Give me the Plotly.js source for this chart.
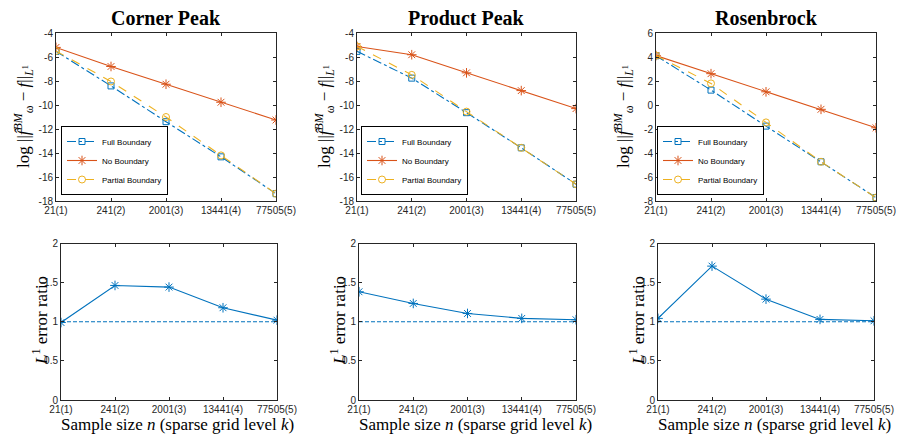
<!DOCTYPE html>
<html>
<head>
<meta charset="utf-8">
<script src="https://cdn.plot.ly/plotly-3.0.1.min.js"></script>
<style>html,body{margin:0;padding:0;background:#fff;}#chart{width:897px;height:434px;}</style>
</head>
<body>
<div id="chart"></div>
<script>
// ---------------- data ----------------
const sampleLabels = ["21(1)", "241(2)", "2001(3)", "13441(4)", "77505(5)"];
const panelTitles = ["Corner Peak", "Product Peak", "Rosenbrock"];
const seriesNames = ["Full Boundary", "No Boundary", "Partial Boundary"];

// log L1 errors
const cornerFull    = [-5.53, -8.41, -11.39, -14.32, -17.39];
const cornerNo      = [-5.20, -6.79, -8.27, -9.77, -11.25];
const cornerPartial = [-5.50, -8.04, -11.00, -14.20, -17.39];

const productFull    = [-5.53, -7.76, -10.64, -13.57, -16.60];
const productNo      = [-5.12, -5.81, -7.32, -8.80, -10.30];
const productPartial = [-5.12, -7.49, -10.55, -13.57, -16.60];

const rosenFull    = [4.10, 1.24, -1.76, -4.73, -7.72];
const rosenNo      = [4.12, 2.61, 1.10, -0.36, -1.90];
const rosenPartial = [4.12, 1.80, -1.45, -4.73, -7.72];

// L1 error ratios
const cornerRatio  = [0.99, 1.464, 1.443, 1.179, 1.02];
const productRatio = [1.383, 1.234, 1.106, 1.043, 1.026];
const rosenRatio   = [1.043, 1.711, 1.289, 1.03, 1.012];
const ratioReference = 1;

// y tick values
const topTicksPeak = [-18, -16, -14, -12, -10, -8, -6, -4];
const topTicksRosen = [-8, -6, -4, -2, 0, 2, 4, 6];
const ratioTicks = [0, 0.5, 1, 1.5, 2];

// ---------------- styling ----------------
const W = 897, H = 434;
const px = v => v / W;
const py = v => 1 - v / H;
const C_BLUE = "#0072BD", C_ORANGE = "#D95319", C_YELLOW = "#EDB120";
const AX = "#262626";
const tickFont = {family: "Liberation Sans, Arial, sans-serif", size: 10, color: AX};

const topData = [
  [cornerFull, cornerNo, cornerPartial],
  [productFull, productNo, productPartial],
  [rosenFull, rosenNo, rosenPartial]
];
const ratioData = [cornerRatio, productRatio, rosenRatio];

const seriesStyle = [
  {color: C_BLUE, dash: "dashdot", symbol: "square-open", size: 6},
  {color: C_ORANGE, dash: "solid", symbol: "asterisk-open", size: 8},
  {color: C_YELLOW, dash: "dash", symbol: "circle-open", size: 7}
];

const traces = [];
const legendIds = ["legend", "legend2", "legend3"];
const axSuffix = i => (i === 1 ? "" : String(i));
for (let p = 0; p < 3; p++) {
  for (let s = 0; s < 3; s++) {
    const st = seriesStyle[s];
    traces.push({
      x: sampleLabels, y: topData[p][s], type: "scatter", mode: "lines+markers",
      name: seriesNames[s], xaxis: "x" + axSuffix(p + 1), yaxis: "y" + axSuffix(p + 1),
      legend: legendIds[p], showlegend: true,
      line: {color: st.color, width: 1.1, dash: st.dash},
      marker: {symbol: st.symbol, size: st.size, color: st.color, line: {color: st.color, width: 1}}
    });
  }
}
for (let p = 0; p < 3; p++) {
  traces.push({
    x: sampleLabels, y: sampleLabels.map(() => ratioReference), type: "scatter", mode: "lines",
    xaxis: "x" + (p + 4), yaxis: "y" + (p + 4), showlegend: false,
    line: {color: C_BLUE, width: 1, dash: "4px,2px"}
  });
  traces.push({
    x: sampleLabels, y: ratioData[p], type: "scatter", mode: "lines+markers",
    xaxis: "x" + (p + 4), yaxis: "y" + (p + 4), showlegend: false,
    line: {color: C_BLUE, width: 1.1},
    marker: {symbol: "asterisk-open", size: 8, color: C_BLUE, line: {color: C_BLUE, width: 1}}
  });
}

const topX = [[56, 276], [357, 576], [656, 876]];
const botX = [[61, 277], [359, 576], [658, 874]];
const topY = [33, 201];
const botY = [243.5, 400];

function xAxis(dom, anchor) {
  return {
    domain: [px(dom[0]), px(dom[1])], anchor: anchor, type: "category",
    range: [0, sampleLabels.length - 1], showline: true, linecolor: AX, linewidth: 1,
    mirror: "ticks", ticks: "inside", ticklen: 3, tickcolor: AX, showgrid: false,
    zeroline: false, tickfont: tickFont, fixedrange: true
  };
}
function yAxis(dom, anchor, rng, tv) {
  return {
    domain: [py(dom[1]), py(dom[0])], anchor: anchor, range: rng,
    tickvals: tv, ticktext: tv.map(v => String(v)),
    showline: true, linecolor: AX, linewidth: 1, mirror: "ticks",
    ticks: "inside", ticklen: 3, tickcolor: AX, showgrid: false, zeroline: false,
    tickfont: tickFont, fixedrange: true
  };
}

const layout = {
  width: W, height: H, margin: {l: 0, r: 0, t: 0, b: 0},
  paper_bgcolor: "#fff", plot_bgcolor: "#fff", showlegend: true,
  annotations: []
};
const topRanges = [[-18, -4], [-18, -4], [-8, 6]];
const topTicks = [topTicksPeak, topTicksPeak, topTicksRosen];
for (let p = 0; p < 3; p++) {
  const a = axSuffix(p + 1);
  layout["xaxis" + a] = xAxis(topX[p], "y" + a);
  layout["yaxis" + a] = yAxis(topY, "x" + a, topRanges[p], topTicks[p]);
  layout["xaxis" + (p + 4)] = xAxis(botX[p], "y" + (p + 4));
  layout["yaxis" + (p + 4)] = yAxis(botY, "x" + (p + 4), [0, 2], ratioTicks);
}

const legendX = [61, 361, 657];
for (let p = 0; p < 3; p++) {
  layout[legendIds[p]] = {
    x: px(legendX[p]), y: py(195), xanchor: "left", yanchor: "bottom",
    bgcolor: "#fff", bordercolor: "#000", borderwidth: 1,
    font: {family: "Liberation Sans, Arial, sans-serif", size: 8, color: "#000"},
    itemwidth: 30, tracegroupgap: 0
  };
}

const serif = "Liberation Serif, Times New Roman, serif";
const yLabelTop = "log ||<i>f̂</i><sup><i>BM</i></sup><sub>ω</sub> − <i>f</i>||<sub><i>L</i><sup>1</sup></sub>";
const yLabelBot = "<i>L</i><sup>1</sup> error ratio";
const xLabelBot = "Sample size <i>n</i> (sparse grid level <i>k</i>)";
for (let p = 0; p < 3; p++) {
  const tc = (topX[p][0] + topX[p][1]) / 2;
  layout.annotations.push({
    text: "<b>" + panelTitles[p] + "</b>", xref: "paper", yref: "paper",
    x: px(tc), y: py(18), xanchor: "center", yanchor: "middle", showarrow: false,
    font: {family: serif, size: 20, color: "#000"}
  });
  layout.annotations.push({
    text: yLabelTop, xref: "paper", yref: "paper", textangle: -90,
    x: px(topX[p][0] - 33), y: py(117), xanchor: "center", yanchor: "middle", showarrow: false,
    font: {family: serif, size: 17, color: "#000"}
  });
  const bc = (botX[p][0] + botX[p][1]) / 2;
  layout.annotations.push({
    text: yLabelBot, xref: "paper", yref: "paper", textangle: -90,
    x: px(botX[p][0] - 21), y: py(321), xanchor: "center", yanchor: "middle", showarrow: false,
    font: {family: serif, size: 17, color: "#000"}
  });
  layout.annotations.push({
    text: xLabelBot, xref: "paper", yref: "paper",
    x: px(bc + 8), y: py(424), xanchor: "center", yanchor: "middle", showarrow: false,
    font: {family: serif, size: 17, color: "#000"}
  });
}

Plotly.newPlot("chart", traces, layout, {staticPlot: true, displayModeBar: false});
</script>
</body>
</html>
